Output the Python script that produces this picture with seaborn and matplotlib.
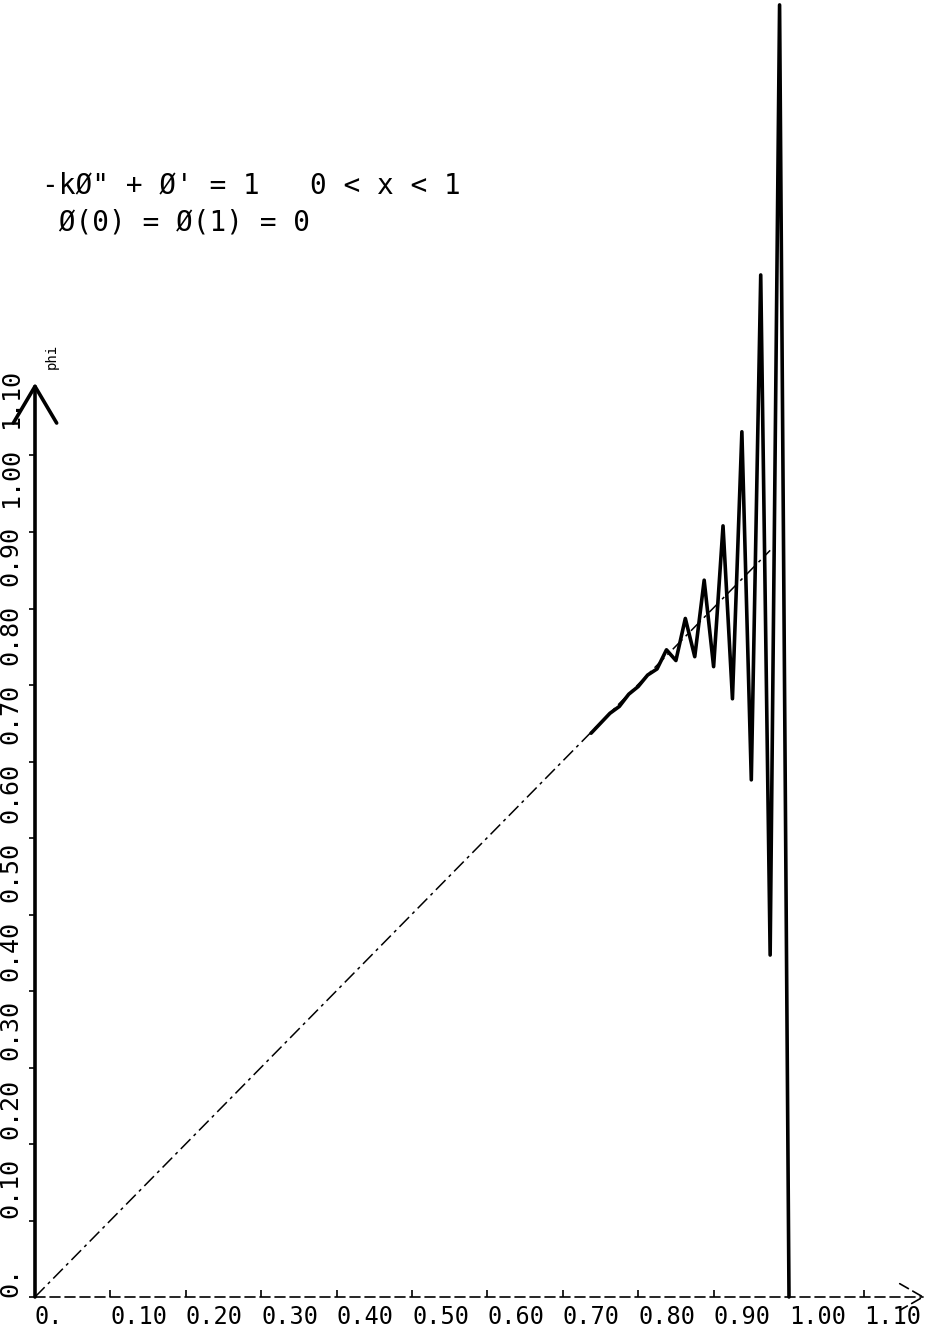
import matplotlib
matplotlib.use("Agg")
import matplotlib.pyplot as plt
import matplotlib.transforms as mtransforms
import pandas as pd
import seaborn as sns

# numerical solution (nodes, h = 1/80)
x_num = [0.7375, 0.75, 0.7625, 0.775, 0.7875, 0.8, 0.8125, 0.825, 0.8375, 0.85,
         0.8625, 0.875, 0.8875, 0.9, 0.9125, 0.925, 0.9375, 0.95, 0.9625, 0.975,
         0.9875, 1.0]
phi_num = [0.737, 0.750, 0.763, 0.772, 0.788, 0.798, 0.813, 0.821, 0.846, 0.832,
           0.887, 0.837, 0.937, 0.824, 1.008, 0.782, 1.131, 0.676, 1.336, 0.447,
           1.689, 0.0]

# exact solution (straight dash-dot line)
x_exact = [0.0, 0.975]
phi_exact = [0.0, 0.976]

xticks = [0.0, 0.1, 0.2, 0.3, 0.4, 0.5, 0.6, 0.7, 0.8, 0.9, 1.0, 1.1]
xticklabels = ["0.", "0.10", "0.20", "0.30", "0.40", "0.50", "0.60", "0.70",
               "0.80", "0.90", "1.00", "1.10"]
yticks = xticks
yticklabels = xticklabels

eq_line1 = "-k\u00d8\" + \u00d8' = 1   0 < x < 1"
eq_line2 = " \u00d8(0) = \u00d8(1) = 0"

sns.set_theme(style="white")
plt.rcParams["font.family"] = ["DejaVu Sans Mono", "DejaVu Sans"]

W, H = 936, 1333
fig = plt.figure(figsize=(W / 100, H / 100), dpi=100)
sx, sy = 754, 765  # pixels per data unit
xmax, ymax = 1.19, 1.69
ax = fig.add_axes([35 / W, 36 / H, xmax * sx / W, ymax * sy / H])

num = pd.DataFrame({"x": x_num, "phi": phi_num})
ex = pd.DataFrame({"x": x_exact, "phi": phi_exact})

sns.lineplot(data=ex, x="x", y="phi", ax=ax, color="black", lw=1.1,
             linestyle=(0, (9, 3, 2, 3)), estimator=None, sort=False)
sns.lineplot(data=num, x="x", y="phi", ax=ax, color="black", lw=2.6,
             estimator=None, sort=False)
for line in ax.lines:
    line.set_clip_on(False)

ax.set_xlim(0, xmax)
ax.set_ylim(0, ymax)
for s in ax.spines.values():
    s.set_visible(False)

# axes with open arrowheads
ax.annotate("", xy=(0, 1.195), xytext=(0, 0),
            arrowprops=dict(arrowstyle="->,head_length=2.2,head_width=1.3",
                            lw=2.6, color="black", shrinkA=0, shrinkB=0),
            annotation_clip=False)
ax.annotate("", xy=(1.18, 0), xytext=(0, 0),
            arrowprops=dict(arrowstyle="->,head_length=1.4,head_width=0.8",
                            lw=1.2, color="black", linestyle=(0, (6, 3)),
                            shrinkA=0, shrinkB=0),
            annotation_clip=False)

ax.set_xticks(xticks)
ax.set_xticklabels(xticklabels, ha="left")
ax.set_yticks(yticks)
ax.set_yticklabels(yticklabels, rotation=90, va="bottom", ha="right")
ax.tick_params(axis="x", direction="in", length=5, width=1.2, pad=6,
               labelsize=17, colors="black", bottom=True)
ax.tick_params(axis="y", direction="out", length=4, width=1.2, pad=5,
               labelsize=18, colors="black", left=True)
ax.set_xlabel("")
ax.set_ylabel("")

# the plotter's y labels creep upward a little relative to the ticks
for i, lab in enumerate(ax.get_yticklabels()):
    lab.set_transform(lab.get_transform() +
                      mtransforms.ScaledTranslation(0, i * 2.5 / 100, fig.dpi_scale_trans))

ax.text(0.0225, 1.23, "phi", rotation=90, ha="center", va="center",
        fontsize=10, color="black")

fig.text(42 / W, 1 - 185 / H, eq_line1, fontsize=20, ha="left", va="center",
         color="black")
fig.text(42 / W, 1 - 222 / H, eq_line2, fontsize=20, ha="left", va="center",
         color="black")

fig.savefig("out.png", dpi=100)
